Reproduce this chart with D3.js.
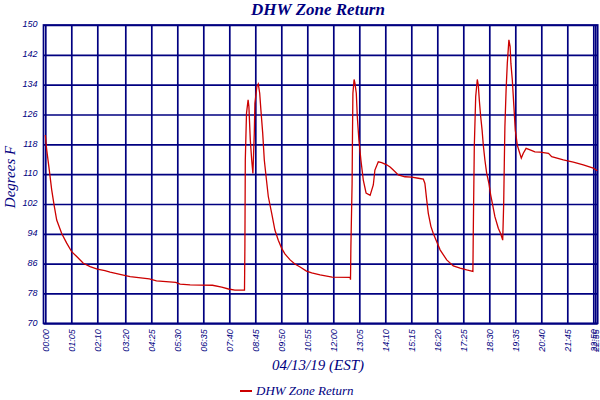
<!DOCTYPE html>
<html>
<head>
<meta charset="utf-8">
<script src="https://cdn.jsdelivr.net/npm/d3@7"></script>
<style>
  body { margin: 0; background: #fff; }
  svg { display: block; }
</style>
</head>
<body>
<div id="chart"></div>
<script>
// Sample times (minutes after midnight) and readings
const sampleMinutes = [
  0, 3.5, 10, 16, 22, 28.5, 41, 53.5, 66, 78.5, 95, 112, 130, 149, 162, 195, 212,
  260, 278, 326, 337, 362, 418, 441, 458, 474, 498,
  499, 500, 503, 507, 509, 512.5, 516, 519, 522.5, 524, 529, 532.5, 536, 539, 543.5,
  547.5, 552, 557.5, 566, 574, 582.5, 591, 599, 612, 624, 637, 653, 666, 687, 717, 762,
  763, 764, 767, 768, 769, 772, 774, 777.5, 780, 784, 789, 795, 802, 812, 820, 824,
  832.5, 841, 853.5, 862, 870, 882.5, 899, 916, 932.5, 945, 949, 953.5, 957.5, 964,
  970, 977, 987, 1003.5, 1020, 1037, 1053.5, 1069,
  1070, 1072.5, 1076, 1080, 1082.5, 1085, 1088.5, 1092, 1095, 1099, 1103.5, 1109,
  1113.5, 1118.5, 1124, 1132.5, 1138.5, 1143.5,
  1146, 1147.5, 1149, 1152, 1155, 1159, 1162, 1164, 1167.5, 1171.5, 1175, 1180, 1185,
  1190, 1195, 1202, 1212, 1224, 1237, 1258, 1266, 1295, 1320, 1345, 1370, 1380
];
const returnTemps = [
  120.5, 116.5, 111.1, 105.8, 101.7, 97.7, 94.1, 91.5, 89.2, 87.9, 86.1, 85.2, 84.5, 84.1, 83.7, 82.9, 82.5,
  81.9, 81.4, 81.0, 80.5, 80.3, 80.2, 79.7, 79.2, 78.9, 78.9,
  90.6, 113.8, 126.3, 129.9, 128.1, 119.2, 113.8, 110.2, 121.0, 129.0, 133.5, 134.2, 131.7, 127.2, 121.0,
  113.8, 109.3, 104.0, 99.5, 95.0, 92.3, 90.1, 88.6, 87.0, 85.9, 85.1, 84.0, 83.5, 83.0, 82.4, 82.3,
  81.7, 90.6, 107.5, 121.0, 131.7, 135.4, 134.4, 131.7, 125.4, 119.2, 113.8, 108.4, 104.9, 104.3, 107.1, 111.1,
  113.3, 113.1, 112.5, 111.9, 111.1, 109.8, 109.3, 109.2, 108.9, 108.7, 107.5, 103.1, 99.5, 96.0,
  94.1, 92.3, 89.7, 87.0, 85.4, 84.8, 84.3, 83.9,
  95.0, 117.4, 130.8, 135.4, 133.9, 129.9, 125.4, 121.8, 117.8, 113.8, 110.2, 107.5,
  104.4, 101.7, 98.6, 95.5, 94.0, 92.3,
  102.2, 112.9, 122.7, 132.6, 139.7, 146.0, 144.2, 139.7, 135.3, 128.1, 121.8, 117.8, 116.0,
  114.3, 115.6, 116.9, 116.5, 116.0, 115.9, 115.6, 114.7, 113.8, 113.2, 112.5, 111.6, 110.9
];

const timeTicks = [
  '00:00', '01:05', '02:10', '03:20', '04:25', '05:30', '06:35', '07:40', '08:45', '09:50',
  '10:55', '12:00', '13:05', '14:10', '15:15', '16:20', '17:25', '18:30', '19:35', '20:40',
  '21:45', '22:50', '22:55'
];
const tempTicks = [70, 78, 86, 94, 102, 110, 118, 126, 134, 142, 150];

const seriesName = 'DHW Zone Return';
const chartTitle = 'DHW Zone Return';
const xTitle = '04/13/19 (EST)';
const yTitle = 'Degrees F';

const width = 600;
const height = 400;
const navy = '#000080';
const lineColor = '#cc0000';
const plotLeft = 43.5, plotTop = 25, plotBottom = 323.3;

const toMinutes = s => { const [h, m] = s.split(':').map(Number); return h * 60 + m; };

const x = d3.scaleLinear().domain([0, 1380]).range([45.3, 597.3]);
const y = d3.scaleLinear().domain([70, 150]).range([plotBottom, plotTop]);
const plotRight = x.range()[1] + 0.4;

const svg = d3.select('#chart')
  .append('svg')
  .attr('width', width)
  .attr('height', height);

// Horizontal grid + y labels
const yAxis = svg.append('g')
  .attr('transform', `translate(${plotLeft},0)`)
  .call(d3.axisLeft(y)
    .tickValues(tempTicks)
    .tickSize(-(plotRight - plotLeft))
    .tickPadding(6));
yAxis.select('.domain').remove();
yAxis.selectAll('.tick line')
  .attr('stroke', navy)
  .attr('stroke-width', 1.7);
yAxis.selectAll('.tick text')
  .attr('fill', navy)
  .attr('font-family', 'Liberation Sans, Arial, sans-serif')
  .attr('font-style', 'italic')
  .attr('font-size', 9)
  .attr('dy', '0.2em');

// Vertical grid + rotated time labels
const xAxis = svg.append('g')
  .attr('transform', `translate(0,${plotBottom})`)
  .call(d3.axisBottom(x)
    .tickValues(timeTicks.map(toMinutes))
    .tickFormat((d, i) => timeTicks[i])
    .tickSize(-(plotBottom - plotTop)));
xAxis.select('.domain').remove();
xAxis.selectAll('.tick line')
  .attr('stroke', navy)
  .attr('stroke-width', 1.7);
xAxis.selectAll('.tick text')
  .attr('fill', navy)
  .attr('font-family', 'Liberation Sans, Arial, sans-serif')
  .attr('font-style', 'italic')
  .attr('font-size', 9)
  .attr('text-anchor', 'end')
  .attr('dy', null)
  .attr('y', null)
  .attr('transform', 'translate(3,6) rotate(-90)');

// Plot frame
svg.append('rect')
  .attr('x', plotLeft)
  .attr('y', plotTop)
  .attr('width', plotRight - plotLeft)
  .attr('height', plotBottom - plotTop)
  .attr('fill', 'none')
  .attr('stroke', navy)
  .attr('stroke-width', 1.7);

// Series line
const series = sampleMinutes.map((m, i) => [m, returnTemps[i]]);
svg.append('path')
  .datum(series)
  .attr('fill', 'none')
  .attr('stroke', lineColor)
  .attr('stroke-width', 1.3)
  .attr('d', d3.line().x(d => x(d[0])).y(d => y(d[1])));

// Titles
svg.append('text')
  .attr('x', 318)
  .attr('y', 15)
  .attr('text-anchor', 'middle')
  .attr('fill', navy)
  .attr('font-family', 'Liberation Serif, serif')
  .attr('font-style', 'italic')
  .attr('font-weight', 'bold')
  .attr('font-size', 17)
  .text(chartTitle);

svg.append('text')
  .attr('x', 318)
  .attr('y', 370)
  .attr('text-anchor', 'middle')
  .attr('fill', navy)
  .attr('font-family', 'Liberation Serif, serif')
  .attr('font-style', 'italic')
  .attr('font-size', 15)
  .text(xTitle);

svg.append('text')
  .attr('transform', 'translate(15,177) rotate(-90)')
  .attr('text-anchor', 'middle')
  .attr('fill', navy)
  .attr('font-family', 'Liberation Serif, serif')
  .attr('font-style', 'italic')
  .attr('font-size', 15)
  .text(yTitle);

// Legend
const legend = svg.append('g').attr('transform', 'translate(240,391)');
legend.append('line')
  .attr('x1', 0).attr('x2', 12)
  .attr('stroke', lineColor)
  .attr('stroke-width', 2);
legend.append('text')
  .attr('x', 16)
  .attr('y', 4)
  .attr('fill', navy)
  .attr('font-family', 'Liberation Serif, serif')
  .attr('font-style', 'italic')
  .attr('font-size', 13)
  .text(seriesName);
</script>
</body>
</html>
